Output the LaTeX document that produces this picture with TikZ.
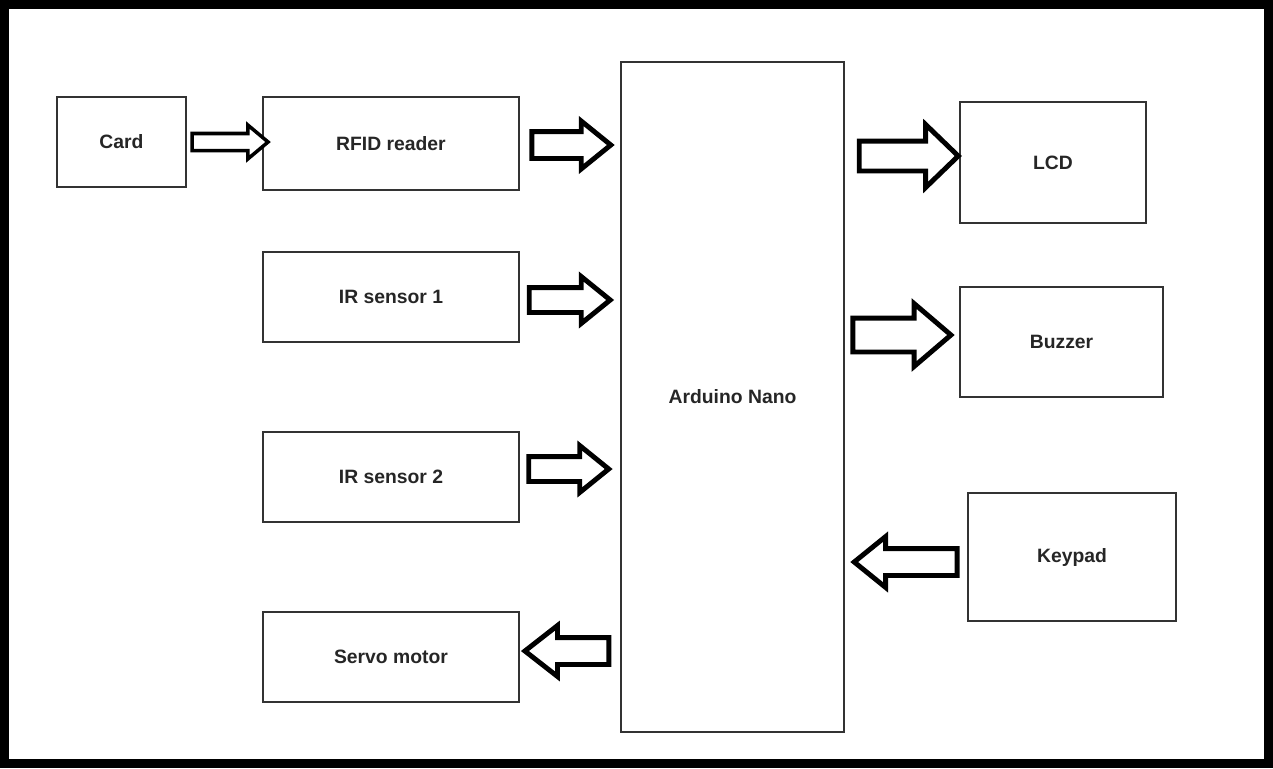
\documentclass[tikz,border=0pt]{standalone}
\usepackage{fontspec}
\setmainfont{Liberation Sans}
\usepackage{tikz}
\usetikzlibrary{shapes.arrows,positioning}

\begin{document}
\begin{tikzpicture}[
        x=0.02cm, y=-0.02cm,
        block/.style={draw=black!80, line width=0.8pt, fill=white, inner sep=0pt,
          font=\fontsize{11}{13}\selectfont\bfseries, text=black!85},
        bigarrow/.style={single arrow, draw=black, line width=2.8pt, fill=white,
          inner xsep=0pt, inner ysep=0.2cm, minimum height=1.6cm,
          single arrow head extend=0.22cm, single arrow tip angle=78},
        leftarrow/.style={bigarrow, shape border rotate=180}
      ]
        \useasboundingbox (0,0) rectangle (1273,768);
        \draw[line width=5.1pt] (4.5,4.5) rectangle (1268.5,763.5);

        % inputs
        \node[block, minimum width=2.58cm, minimum height=1.8cm] (card) at (121.5,142) {Card};
        \node[block, minimum width=5.12cm, minimum height=1.86cm] (rfid) at (391,143.5) {RFID reader};
        \node[block, minimum width=5.12cm, minimum height=1.8cm] (ir1) at (391,297) {IR sensor 1};
        \node[block, minimum width=5.12cm, minimum height=1.8cm] (ir2) at (391,477) {IR sensor 2};
        \node[block, minimum width=5.12cm, minimum height=1.8cm] (servo) at (391,657) {Servo motor};

        % controller
        \node[block, minimum width=4.46cm, minimum height=13.4cm] (nano) at (732.5,397) {Arduino Nano};

        % outputs
        \node[block, minimum width=3.72cm, minimum height=2.42cm] (lcd) at (1053,162.5) {LCD};
        \node[block, minimum width=4.06cm, minimum height=2.2cm] (buzzer) at (1061.5,342) {Buzzer};
        \node[block, minimum width=4.16cm, minimum height=2.56cm] (keypad) at (1072,557) {Keypad};

        % block arrows
        \node[bigarrow, line width=2pt, minimum height=1.52cm, inner ysep=0.135cm,
          single arrow head extend=0.17cm, single arrow tip angle=80] (cardarr) at (225,142) {};
        \node[bigarrow, minimum height=1.58cm, inner ysep=0.22cm,
          single arrow head extend=0.21cm] (rfidarr) at (563,145) {};
        \node[bigarrow, minimum height=1.62cm] (ir1arr) at (562,300) {};
        \node[bigarrow] (ir2arr) at (561,469) {};
        \node[leftarrow, minimum height=1.68cm, inner ysep=0.22cm,
          single arrow head extend=0.24cm, single arrow tip angle=76] (servoarr) at (575.5,651) {};
        \node[bigarrow, minimum height=1.98cm, inner ysep=0.25cm,
          single arrow head extend=0.33cm, single arrow tip angle=88] (lcdarr) at (901,156) {};
        \node[bigarrow, minimum height=1.96cm, inner ysep=0.29cm,
          single arrow head extend=0.29cm, single arrow tip angle=81] (buzzarr) at (892,335) {};
        \node[leftarrow, minimum height=2.06cm, inner ysep=0.22cm,
          single arrow head extend=0.24cm] (keyarr) at (914,562) {};
      \end{tikzpicture}
\end{document}
